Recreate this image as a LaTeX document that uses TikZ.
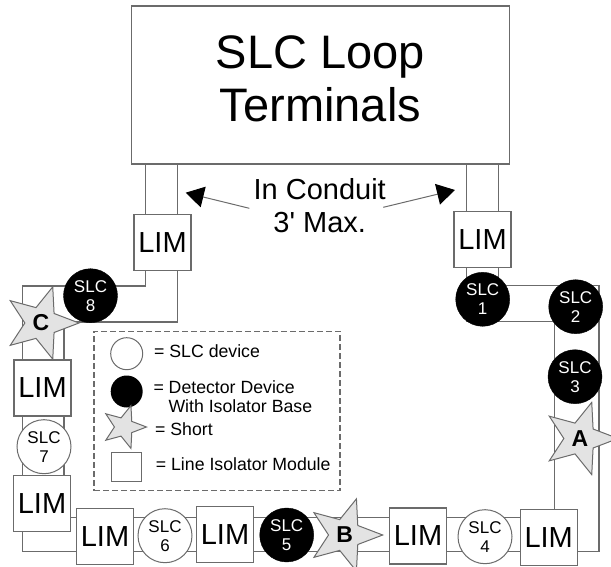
\documentclass[tikz,border=0pt]{standalone}
\usepackage{xcolor}
\usepackage{fontspec}
\setmainfont{Liberation Sans}
\usepackage{tikz}
\usetikzlibrary{arrows.meta,shapes.geometric}
\definecolor{wiregray}{gray}{0.42}
\definecolor{stargray}{gray}{0.89}
\tikzset{
  lim/.style={draw=wiregray,fill=white,line width=1.2pt,minimum width=57pt,minimum height=56pt,inner sep=0pt,font=\fontsize{29}{29}\selectfont},
  slcopen/.style={circle,draw=wiregray,fill=white,line width=1pt,minimum size=54pt,inner sep=0pt,align=center,font=\fontsize{17}{19}\selectfont,execute at begin node={\rule{0pt}{18pt}}},
  slcblack/.style={circle,draw=black,fill=black,text=white,minimum size=54pt,inner sep=0pt,align=center,font=\fontsize{17}{19}\selectfont,execute at begin node={\rule{0pt}{18pt}}},
  short/.style={star,star points=5,star point ratio=2.35,shape border rotate=-90,draw=wiregray,fill=stargray,line width=1pt,minimum size=76pt,inner sep=0pt,font=\fontsize{23}{23}\bfseries\selectfont},
  wire/.style={draw=wiregray,line width=1.2pt},
  pointer/.style={-{Triangle[length=18pt,width=21pt,black]},wiregray,line width=1pt},
  legendtext/.style={anchor=base west,inner sep=0pt,font=\fontsize{17.7}{19}\selectfont}
}
\begin{document}
\begin{tikzpicture}[x=1pt,y=-1pt]
\useasboundingbox (0,0) rectangle (611,567);
\clip (0,0) rectangle (611,567);
% terminals
\node[draw=wiregray,line width=1.2pt,minimum width=377.6pt,minimum height=158pt] (terminals) at (320.5,85) {};
\node[align=center,inner sep=0pt,font=\fontsize{47}{53}\selectfont] (terminaltext) at (320.5,79) {SLC Loop\\Terminals};
% wires
\coordinate (tl1) at (145.5,164);
\coordinate (tl2) at (177.5,164);
\coordinate (tr1) at (466.5,164);
\coordinate (tr2) at (498.5,164);
\coordinate (c1) at (145.5,286);
\coordinate (c2) at (22.5,286);
\coordinate (c3) at (22.5,551.7);
\coordinate (c4) at (599,551.7);
\coordinate (c5) at (599,285.7);
\coordinate (c6) at (498.5,285.7);
\draw[wire] (tl1) -- (c1) -- (c2) -- (c3) -- (c4) -- (c5) -- (c6) -- (tr2);
\coordinate (d1) at (177.5,322);
\coordinate (d2) at (64,322);
\coordinate (d3) at (64,517.3);
\coordinate (d4) at (554.5,517.3);
\coordinate (d5) at (554.5,321.7);
\coordinate (d6) at (466.5,321.7);
\draw[wire] (tl2) -- (d1) -- (d2) -- (d3) -- (d4) -- (d5) -- (d6) -- (tr1);
% isolators
\node[lim] (lim1) at (162.5,242.5) {LIM};
\node[lim] (lim2) at (42.5,388) {LIM};
\node[lim] (lim3) at (42,503.7) {LIM};
\node[lim] (lim4) at (105,536.5) {LIM};
\node[lim] (lim5) at (225,534.5) {LIM};
\node[lim] (lim6) at (418,536) {LIM};
\node[lim] (lim7) at (548.7,537.8) {LIM};
\node[lim] (lim8) at (482.5,239.7) {LIM};
% devices
\node[slcblack] (slc1) at (482.7,299.3) {SLC\\1};
\node[slcblack] (slc2) at (575.7,306.7) {SLC\\2};
\node[slcblack] (slc3) at (575,376.7) {SLC\\3};
\node[slcopen] (slc4) at (485,536.7) {SLC\\4};
\node[slcblack] (slc5) at (286.7,535) {SLC\\5};
\node[slcopen] (slc6) at (165,535.7) {SLC\\6};
\node[slcopen] (slc7) at (44,446.7) {SLC\\7};
\node[slcblack] (slc8) at (90.5,295.7) {SLC\\8};
% shorts
\node[short] (shorta) at (580,438.5) {A};
\node[short] (shortb) at (344.7,535) {B};
\node[short] (shortc) at (41,323) {C};
% conduit note
\node[align=center,inner sep=0pt,font=\fontsize{29}{33}\selectfont] (conduit) at (319.7,206) {In Conduit\\3\textquotesingle{} Max.};
\coordinate (taill) at (249.3,208.3);
\coordinate (tipl) at (185.7,192.7);
\coordinate (tailr) at (383.3,207.3);
\coordinate (tipr) at (455,190);
\draw[pointer] (taill) -- (tipl);
\draw[pointer] (tailr) -- (tipr);
% legend
\node[draw=wiregray,dash pattern=on 6pt off 3pt,line width=1.2pt,minimum width=246pt,minimum height=159.7pt] (legend) at (217,411) {};
\node[circle,draw=wiregray,line width=1pt,minimum size=32pt,inner sep=0pt] (keyopen) at (126.7,353.7) {};
\node[circle,fill=black,minimum size=32pt,inner sep=0pt] (keyblack) at (126.7,391.5) {};
\node[short,minimum size=45pt] (keyshort) at (124,427) {};
\node[draw=wiregray,line width=1pt,minimum width=30pt,minimum height=29.4pt,inner sep=0pt] (keylim) at (126.7,467) {};
\node[legendtext] (keytext1) at (154,357.7) {= SLC device};
\node[legendtext] (keytext2) at (153.3,393.3) {= Detector Device};
\node[legendtext] (keytext3) at (168.3,412.3) {With Isolator Base};
\node[legendtext] (keytext4) at (155,435.7) {= Short};
\node[legendtext] (keytext5) at (155.7,470.7) {= Line Isolator Module};
\end{tikzpicture}
\end{document}
